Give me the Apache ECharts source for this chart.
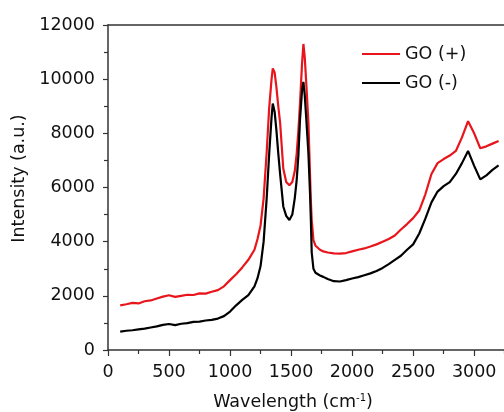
<!DOCTYPE html>
<html>
<head>
<meta charset="utf-8">
<script src="https://cdn.jsdelivr.net/npm/echarts@6/dist/echarts.min.js"></script>
<style>
html,body{margin:0;padding:0;background:#fff;}
#chart{width:504px;height:412px;}
</style>
</head>
<body>
<div id="chart"></div>
<script>
// Wavenumber positions (cm^-1)
const wavenumbers = [100,150,200,250,300,350,400,450,500,550,600,650,700,750,800,850,900,950,1000,1050,1100,1150,
  1200,1225,1250,1275,1300,1320,1340,1350,1355,1365,1380,1395,1410,1436,1460,1486,1510,1530,1546,1560,1573,1590,1601,1612,1625,1642,1655,1662,1669,1683,1700,1737,1764,1800,1850,
  1900,1950,2000,2050,2100,2150,2200,2250,2300,2350,2400,2450,2500,2550,2600,2650,2700,2750,2800,2850,2900,2950,3000,3050,3100,3150,3200];
// GO (+)
const goPlus = [1650,1690,1740,1720,1800,1830,1900,1970,2020,1960,2000,2040,2030,2090,2080,2150,2210,2350,2580,2800,3050,3330,
  3700,4100,4600,5600,7300,8900,10000,10400,10450,10250,9700,9000,8400,6700,6200,6080,6200,6600,7260,8100,9100,10600,11300,10800,9800,8400,6500,5500,4800,4060,3850,3700,3640,3600,3570,
  3560,3580,3640,3700,3750,3820,3900,4000,4100,4230,4450,4650,4870,5150,5750,6500,6900,7050,7180,7350,7850,8450,8000,7450,7520,7620,7720];
// GO (-)
const goMinus = [680,710,730,760,790,830,870,930,960,920,970,990,1040,1050,1090,1110,1160,1250,1420,1650,1850,2030,
  2350,2650,3100,4000,5600,7200,8600,9100,9050,8800,8100,7260,6500,5300,4950,4800,5000,5600,6280,7200,8500,9600,9900,9400,8500,7260,5800,4800,3600,3000,2850,2750,2700,2620,2540,
  2530,2580,2640,2690,2760,2830,2920,3030,3170,3330,3480,3700,3900,4300,4850,5450,5850,6050,6200,6500,6900,7350,6800,6300,6450,6650,6820];
const seriesNames = ['GO (+)', 'GO (-)'];
const seriesColors = ['#e8161c', '#000000'];

const chart = echarts.init(document.getElementById('chart'), null, {renderer: 'canvas'});
const font = 'DejaVu Sans, sans-serif';
const fs = 17.5;
const txt = '#111';
const toPairs = arr => wavenumbers.map((w, i) => [w, arr[i]]);
const axisCol = '#333';

chart.setOption({
  animation: false,
  backgroundColor: '#fff',
  grid: {left: 108, top: 25, width: 415, height: 325, outerBoundsMode: 'none', containLabel: false},
  legend: {
    orient: 'vertical', left: 357, top: 40, itemWidth: 38, itemHeight: 2, itemGap: 11,
    icon: 'rect',
    textStyle: {fontFamily: font, fontSize: fs, color: txt, lineHeight: 16},
    data: seriesNames
  },
  xAxis: [{
    type: 'value', min: 0, max: 3400, interval: 500, position: 'bottom',
    name: 'Wavelength (cm{sup|-1})', nameLocation: 'middle', nameGap: 43,
    nameTextStyle: {fontFamily: font, fontSize: fs, color: txt, padding: [0, 45, 0, 0],
      rich: {sup: {fontFamily: font, fontSize: 10, verticalAlign: 'top', color: txt}}},
    axisLine: {show: true, onZero: false, lineStyle: {color: axisCol, width: 1.5}},
    axisTick: {show: true, inside: false, length: 6, lineStyle: {color: axisCol, width: 1.2}},
    minorTick: {show: true, splitNumber: 2, length: 4, lineStyle: {color: axisCol, width: 1.2}},
    axisLabel: {fontFamily: font, fontSize: fs, color: txt, margin: 13, showMaxLabel: false, formatter: v => String(v)},
    splitLine: {show: false}
  }, {
    type: 'value', min: 0, max: 3400, position: 'top',
    axisLine: {show: true, onZero: false, lineStyle: {color: axisCol, width: 1.5}},
    axisTick: {show: false}, axisLabel: {show: false}, splitLine: {show: false}
  }],
  yAxis: {
    type: 'value', min: 0, max: 12000, interval: 2000,
    name: 'Intensity (a.u.)', nameLocation: 'middle', nameGap: 78, nameRotate: 90,
    nameTextStyle: {fontFamily: font, fontSize: fs, color: txt, padding: [0, 0, 0, 18]},
    axisLine: {show: true, lineStyle: {color: axisCol, width: 1.5}},
    axisTick: {show: true, inside: false, length: 5, lineStyle: {color: axisCol, width: 1.2}},
    minorTick: {show: true, splitNumber: 2, length: 4, lineStyle: {color: axisCol, width: 1.2}},
    axisLabel: {fontFamily: font, fontSize: fs, color: txt, margin: 13, formatter: v => String(v)},
    splitLine: {show: false}
  },
  series: [
    {name: seriesNames[0], type: 'line', data: toPairs(goPlus), symbol: 'none', lineStyle: {color: seriesColors[0], width: 2.2}, itemStyle: {color: seriesColors[0]}},
    {name: seriesNames[1], type: 'line', data: toPairs(goMinus), symbol: 'none', lineStyle: {color: seriesColors[1], width: 2.2}, itemStyle: {color: seriesColors[1]}}
  ]
});
</script>
</body>
</html>
